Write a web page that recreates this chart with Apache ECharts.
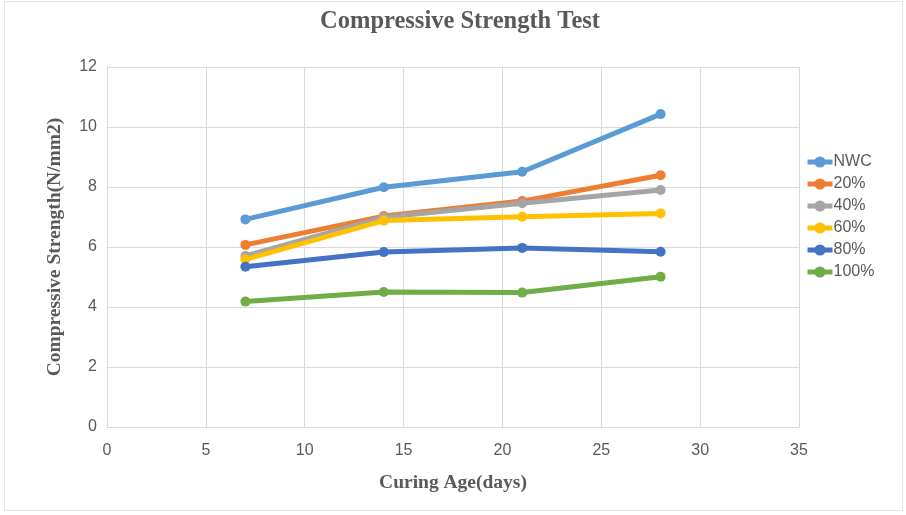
<!DOCTYPE html>
<html>
<head>
<meta charset="utf-8">
<script src="https://cdn.jsdelivr.net/npm/echarts@6/dist/echarts.min.js"></script>
<style>html,body{margin:0;padding:0;background:#fff}#c{width:906px;height:515px}</style>
</head>
<body>
<div id="c"></div>
<script>
var days = [7, 14, 21, 28];
var seriesNames = ['NWC', '20%', '40%', '60%', '80%', '100%'];
var nwc = [6.92, 7.99, 8.51, 10.43];
var p20 = [6.07, 7.03, 7.53, 8.39];
var p40 = [5.70, 6.99, 7.46, 7.90];
var p60 = [5.59, 6.88, 7.01, 7.12];
var p80 = [5.34, 5.83, 5.97, 5.84];
var p100 = [4.18, 4.50, 4.48, 5.01];
var xTicks = [0, 5, 10, 15, 20, 25, 30, 35];
var yTicks = [0, 2, 4, 6, 8, 10, 12];

var colors = ['#5B9BD5', '#ED7D31', '#A5A5A5', '#FFC000', '#4472C4', '#70AD47'];
var allData = [nwc, p20, p40, p60, p80, p100];

var chart = echarts.init(document.getElementById('c'));
var series = seriesNames.map(function (n, i) {
  return {
    name: n,
    type: 'line',
    data: days.map(function (d, j) { return [d, allData[i][j]]; }),
    symbol: 'circle',
    symbolSize: 10,
    lineStyle: { width: 5, color: colors[i] },
    itemStyle: { color: colors[i] },
    emphasis: { disabled: true },
    animation: false
  };
});
chart.setOption({
  animation: false,
  color: colors,
  title: {
    text: 'Compressive Strength Test',
    left: 455, top: 4, textAlign: 'center',
    textStyle: { fontFamily: 'Liberation Serif', fontWeight: 'bold', fontSize: 24.5, color: '#595959' }
  },
  graphic: [{
    type: 'rect', shape: { x: 4.5, y: 1.5, width: 898, height: 509 },
    style: { fill: 'none', stroke: '#E6E6E6', lineWidth: 1 }, silent: true
  }],
  legend: {
    orient: 'vertical', left: 800, top: 149, itemGap: 6,
    itemWidth: 25, itemHeight: 14,
    data: seriesNames,
    lineStyle: { width: 5 },
    textStyle: { fontFamily: 'Liberation Sans', fontSize: 16, color: '#595959', padding: [0, 0, 0, -4] }
  },
  grid: { left: 107, right: 107, top: 67, bottom: 88, containLabel: false },
  xAxis: {
    type: 'value', min: xTicks[0], max: xTicks[xTicks.length - 1], interval: 5,
    name: 'Curing Age(days)', nameLocation: 'middle', nameGap: 46,
    nameTextStyle: { fontFamily: 'Liberation Serif', fontWeight: 'bold', fontSize: 19.5, color: '#595959' },
    axisLine: { lineStyle: { color: '#D9D9D9' } },
    axisTick: { show: false },
    axisLabel: { fontFamily: 'Liberation Sans', fontSize: 16, color: '#595959', margin: 16 },
    splitLine: { show: true, lineStyle: { color: '#D9D9D9' } }
  },
  yAxis: {
    type: 'value', min: yTicks[0], max: yTicks[yTicks.length - 1], interval: 2,
    name: 'Compressive Strength(N/mm2)', nameLocation: 'middle', nameGap: 42,
    nameTextStyle: { fontFamily: 'Liberation Serif', fontWeight: 'bold', fontSize: 19.5, color: '#595959' },
    axisLine: { show: true, lineStyle: { color: '#D9D9D9' } },
    axisTick: { show: false },
    axisLabel: { fontFamily: 'Liberation Sans', fontSize: 16, color: '#595959', margin: 10 },
    splitLine: { show: true, lineStyle: { color: '#D9D9D9' } }
  },
  series: series
});
</script>
</body>
</html>
